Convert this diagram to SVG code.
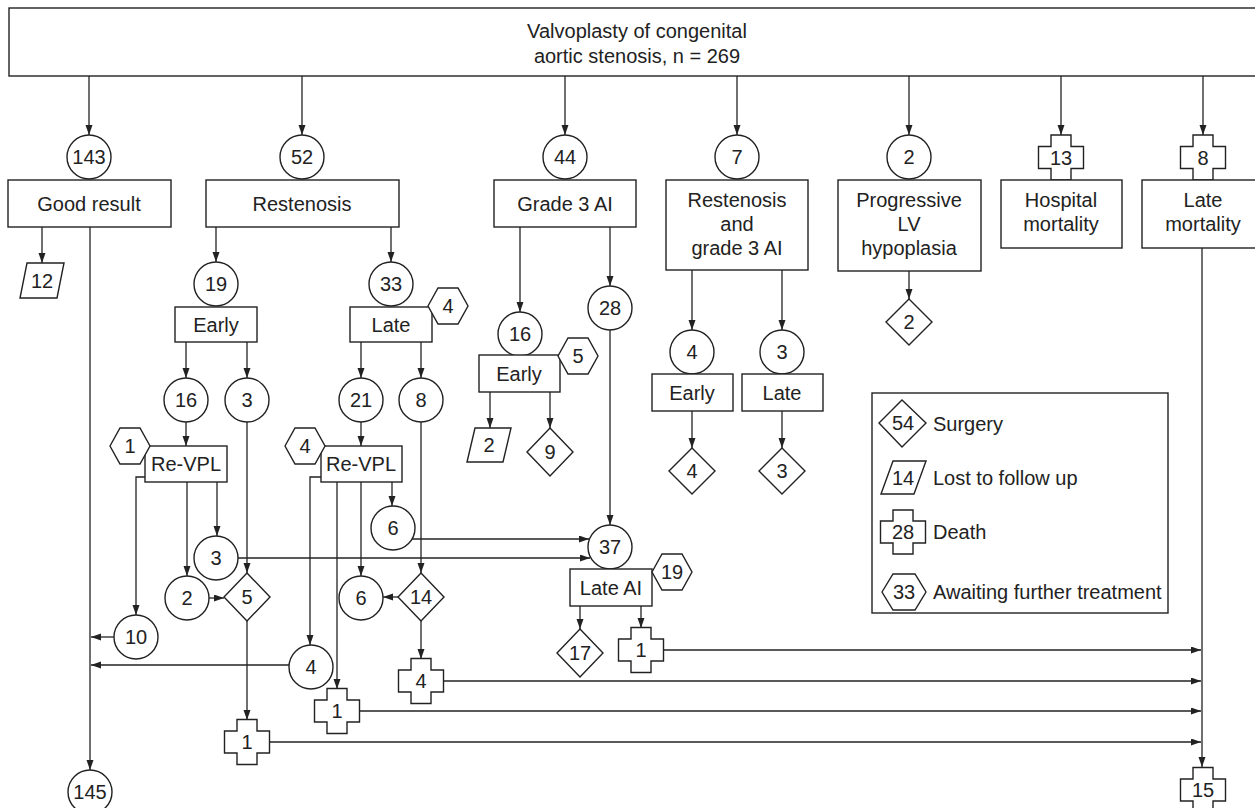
<svg xmlns="http://www.w3.org/2000/svg" width="1255" height="808" viewBox="0 0 1255 808">
<defs>
<marker id="ah" markerUnits="userSpaceOnUse" markerWidth="11" markerHeight="8" refX="10" refY="3.5" orient="auto">
<path d="M0,0 L10,3.5 L0,7 z" fill="#222"/>
</marker>
<style>
.s{fill:#fff;stroke:#222;stroke-width:1.4}
.t{font-family:"Liberation Sans",Arial,sans-serif;font-size:20px;fill:#222;text-anchor:middle}
.l{font-family:"Liberation Sans",Arial,sans-serif;font-size:20px;fill:#222;text-anchor:start}
#connectors path{fill:none;stroke:#222;stroke-width:1.3}
#connectors path.a{marker-end:url(#ah)}
</style>
</defs>
<rect width="1255" height="808" fill="#fff"/>
<g id="connectors">
<path class="a" d="M89,76 V135"/>
<path class="a" d="M302,76 V135"/>
<path class="a" d="M565,76 V135"/>
<path class="a" d="M737,76 V135"/>
<path class="a" d="M909,76 V135"/>
<path class="a" d="M1061,76 V135"/>
<path class="a" d="M1203,76 V135"/>
<path class="a" d="M42,227 V263"/>
<path class="a" d="M90,227 V770"/>
<path class="a" d="M216,227 V262"/>
<path class="a" d="M391,227 V262"/>
<path class="a" d="M186,342 V378"/>
<path class="a" d="M247,342 V378"/>
<path class="a" d="M361,342 V378"/>
<path class="a" d="M421,342 V378"/>
<path class="a" d="M186,422 V446"/>
<path class="a" d="M361,422 V446"/>
<path class="a" d="M145,477 H136 V615"/>
<path class="a" d="M187,482 V576"/>
<path class="a" d="M217,482 V536"/>
<path class="a" d="M247,422 V573"/>
<path class="a" d="M209,598 H224"/>
<path class="a" d="M247,621 V720"/>
<path class="a" d="M270,742 H1201"/>
<path class="a" d="M114,637 H91"/>
<path class="a" d="M238,558 H590"/>
<path class="a" d="M321,477 H310 V645"/>
<path class="a" d="M289,665 H91"/>
<path class="a" d="M337,482 V689"/>
<path class="a" d="M360,711 H1201"/>
<path class="a" d="M361,482 V576"/>
<path class="a" d="M392,482 V506"/>
<path class="a" d="M412,539 H589"/>
<path class="a" d="M421,422 V573"/>
<path class="a" d="M398,597 H383"/>
<path class="a" d="M421,621 V659"/>
<path class="a" d="M444,681 H1201"/>
<path class="a" d="M520,227 V312"/>
<path class="a" d="M610,227 V286"/>
<path class="a" d="M610,330 V525"/>
<path class="a" d="M490,392 V428"/>
<path class="a" d="M550,392 V428"/>
<path class="a" d="M580,606 V629"/>
<path class="a" d="M641,606 V628"/>
<path class="a" d="M663,650 H1201"/>
<path class="a" d="M692,270 V330"/>
<path class="a" d="M782,270 V330"/>
<path class="a" d="M692,411 V448"/>
<path class="a" d="M782,411 V448"/>
<path class="a" d="M909,271 V299"/>
<path class="a" d="M1202,248 V767"/>
</g>
<g id="n-root"><rect class="s" x="9" y="8" width="1260" height="68"/><text class="t" x="637" y="38">Valvoplasty of congenital</text><text class="t" x="637" y="63">aortic stenosis, n = 269</text></g>
<g id="n-143"><circle class="s" cx="89" cy="157" r="22"/><text class="t" x="89" y="164">143</text></g>
<g id="n-52"><circle class="s" cx="302" cy="157" r="22"/><text class="t" x="302" y="164">52</text></g>
<g id="n-44"><circle class="s" cx="565" cy="157" r="22"/><text class="t" x="565" y="164">44</text></g>
<g id="n-7"><circle class="s" cx="737" cy="157" r="22"/><text class="t" x="737" y="164">7</text></g>
<g id="n-2top"><circle class="s" cx="909" cy="157" r="22"/><text class="t" x="909" y="164">2</text></g>
<g id="n-13"><path class="s" d="M1051,135 H1071 V146.5 H1083.5 V168.5 H1071 V180 H1051 V168.5 H1038.5 V146.5 H1051 Z"/><text class="t" x="1061" y="165">13</text></g>
<g id="n-8top"><path class="s" d="M1193,135 H1213 V146.5 H1225.5 V168.5 H1213 V180 H1193 V168.5 H1180.5 V146.5 H1193 Z"/><text class="t" x="1203" y="165">8</text></g>
<g id="n-good"><rect class="s" x="8" y="180" width="163" height="47"/><text class="t" x="89" y="211">Good result</text></g>
<g id="n-restenosis"><rect class="s" x="206" y="180" width="193" height="47"/><text class="t" x="302" y="211">Restenosis</text></g>
<g id="n-grade3"><rect class="s" x="494" y="180" width="142" height="47"/><text class="t" x="565" y="211">Grade 3 AI</text></g>
<g id="n-restai"><rect class="s" x="666" y="180" width="142" height="90"/><text class="t" x="737" y="207">Restenosis</text><text class="t" x="737" y="231">and</text><text class="t" x="737" y="255">grade 3 AI</text></g>
<g id="n-lv"><rect class="s" x="838" y="180" width="143" height="91"/><text class="t" x="909" y="207">Progressive</text><text class="t" x="909" y="231">LV</text><text class="t" x="909" y="255">hypoplasia</text></g>
<g id="n-hosp"><rect class="s" x="1001" y="180" width="121" height="68"/><text class="t" x="1061" y="207">Hospital</text><text class="t" x="1061" y="231">mortality</text></g>
<g id="n-late-mort"><rect class="s" x="1142" y="180" width="125" height="68"/><text class="t" x="1203" y="207">Late</text><text class="t" x="1203" y="231">mortality</text></g>
<g id="n-12"><path class="s" d="M27,263 H64 L57,298 H20 Z"/><text class="t" x="42" y="288">12</text></g>
<g id="n-19"><circle class="s" cx="216" cy="284" r="22"/><text class="t" x="216" y="291">19</text></g>
<g id="n-33"><circle class="s" cx="391" cy="284" r="22"/><text class="t" x="391" y="291">33</text></g>
<g id="n-early1"><rect class="s" x="175" y="307" width="82" height="35"/><text class="t" x="216" y="332">Early</text></g>
<g id="n-late1"><rect class="s" x="350" y="307" width="82" height="35"/><text class="t" x="391" y="332">Late</text></g>
<g id="n-hex4a"><path class="s" d="M428,306 L438,288 H458 L468,306 L458,324 H438 Z"/><text class="t" x="448" y="313">4</text></g>
<g id="n-16a"><circle class="s" cx="186" cy="400" r="22"/><text class="t" x="186" y="407">16</text></g>
<g id="n-3a"><circle class="s" cx="247" cy="400" r="22"/><text class="t" x="247" y="407">3</text></g>
<g id="n-21"><circle class="s" cx="361" cy="400" r="22"/><text class="t" x="361" y="407">21</text></g>
<g id="n-8a"><circle class="s" cx="421" cy="400" r="22"/><text class="t" x="421" y="407">8</text></g>
<g id="n-revpl1"><rect class="s" x="145" y="446" width="82" height="36"/><text class="t" x="186" y="471">Re-VPL</text></g>
<g id="n-hex1"><path class="s" d="M110,446 L120,428 H140 L150,446 L140,464 H120 Z"/><text class="t" x="130" y="453">1</text></g>
<g id="n-revpl2"><rect class="s" x="321" y="446" width="81" height="36"/><text class="t" x="361" y="471">Re-VPL</text></g>
<g id="n-hex4b"><path class="s" d="M285,446 L295,428 H315 L325,446 L315,464 H295 Z"/><text class="t" x="305" y="453">4</text></g>
<g id="n-6a"><circle class="s" cx="393" cy="528" r="22"/><text class="t" x="393" y="535">6</text></g>
<g id="n-3b"><circle class="s" cx="216" cy="558" r="22"/><text class="t" x="216" y="565">3</text></g>
<g id="n-2b"><circle class="s" cx="187" cy="598" r="22"/><text class="t" x="187" y="605">2</text></g>
<g id="n-d5"><path class="s" d="M247,573 L270,597 L247,621 L224,597 Z"/><text class="t" x="247" y="604">5</text></g>
<g id="n-6b"><circle class="s" cx="361" cy="598" r="22"/><text class="t" x="361" y="605">6</text></g>
<g id="n-d14"><path class="s" d="M421,573 L444,597 L421,621 L398,597 Z"/><text class="t" x="421" y="604">14</text></g>
<g id="n-10"><circle class="s" cx="136" cy="637" r="22"/><text class="t" x="136" y="644">10</text></g>
<g id="n-4c"><circle class="s" cx="311" cy="667" r="22"/><text class="t" x="311" y="674">4</text></g>
<g id="n-x4"><path class="s" d="M411,658.5 H431 V670 H443.5 V692 H431 V703.5 H411 V692 H398.5 V670 H411 Z"/><text class="t" x="421" y="688">4</text></g>
<g id="n-x1b"><path class="s" d="M327,688.5 H347 V700 H359.5 V722 H347 V733.5 H327 V722 H314.5 V700 H327 Z"/><text class="t" x="337" y="718">1</text></g>
<g id="n-x1c"><path class="s" d="M237,719.5 H257 V731 H269.5 V753 H257 V764.5 H237 V753 H224.5 V731 H237 Z"/><text class="t" x="247" y="749">1</text></g>
<g id="n-145"><circle class="s" cx="90" cy="792" r="22"/><text class="t" x="90" y="799">145</text></g>
<g id="n-16b"><circle class="s" cx="520" cy="334" r="22"/><text class="t" x="520" y="341">16</text></g>
<g id="n-28"><circle class="s" cx="610" cy="308" r="22"/><text class="t" x="610" y="315">28</text></g>
<g id="n-early2"><rect class="s" x="479" y="355" width="81" height="37"/><text class="t" x="519" y="381">Early</text></g>
<g id="n-hex5"><path class="s" d="M558,356 L568,338 H588 L598,356 L588,374 H568 Z"/><text class="t" x="578" y="363">5</text></g>
<g id="n-p2"><path class="s" d="M475,428 H511 L503,462 H467 Z"/><text class="t" x="489" y="452">2</text></g>
<g id="n-d9"><path class="s" d="M550,428 L573,452 L550,476 L527,452 Z"/><text class="t" x="550" y="459">9</text></g>
<g id="n-37"><circle class="s" cx="610" cy="547" r="22"/><text class="t" x="610" y="554">37</text></g>
<g id="n-lateai"><rect class="s" x="570" y="569" width="82" height="37"/><text class="t" x="611" y="595">Late AI</text></g>
<g id="n-hex19"><path class="s" d="M652,572 L662,554 H682 L692,572 L682,590 H662 Z"/><text class="t" x="672" y="579">19</text></g>
<g id="n-d17"><path class="s" d="M580,629 L603,653 L580,677 L557,653 Z"/><text class="t" x="580" y="660">17</text></g>
<g id="n-x1a"><path class="s" d="M631,627.5 H651 V639 H663.5 V661 H651 V672.5 H631 V661 H618.5 V639 H631 Z"/><text class="t" x="641" y="657">1</text></g>
<g id="n-4d"><circle class="s" cx="692" cy="352" r="22"/><text class="t" x="692" y="359">4</text></g>
<g id="n-3d"><circle class="s" cx="782" cy="352" r="22"/><text class="t" x="782" y="359">3</text></g>
<g id="n-early3"><rect class="s" x="652" y="374" width="81" height="37"/><text class="t" x="692" y="400">Early</text></g>
<g id="n-late3"><rect class="s" x="742" y="374" width="81" height="37"/><text class="t" x="782" y="400">Late</text></g>
<g id="n-d4"><path class="s" d="M692,448 L715,471 L692,494 L669,471 Z"/><text class="t" x="692" y="478">4</text></g>
<g id="n-d3"><path class="s" d="M782,448 L805,471 L782,494 L759,471 Z"/><text class="t" x="782" y="478">3</text></g>
<g id="n-d2"><path class="s" d="M909,299 L932,322 L909,345 L886,322 Z"/><text class="t" x="909" y="329">2</text></g>
<g id="n-x15"><path class="s" d="M1193,767.5 H1213 V779 H1225.5 V801 H1213 V812.5 H1193 V801 H1180.5 V779 H1193 Z"/><text class="t" x="1203" y="797">15</text></g>
<g id="legend">
<rect class="s" x="872" y="393" width="296" height="220"/>
<path class="s" d="M902,400 L926,423 L902,447 L879,423 Z"/><text class="t" x="903" y="430">54</text><text class="l" x="933" y="431">Surgery</text>
<path class="s" d="M893,461 H926 L914,494 H881 Z"/><text class="t" x="903" y="485">14</text><text class="l" x="933" y="485">Lost to follow up</text>
<path class="s" d="M893,510 H913 V521 H925.5 V543 H913 V554 H893 V543 H880.5 V521 H893 Z"/><text class="t" x="903" y="539">28</text><text class="l" x="933" y="539">Death</text>
<path class="s" d="M882,592 L893,574 H915 L926,592 L915,610 H893 Z"/><text class="t" x="904" y="599">33</text><text class="l" x="933" y="599">Awaiting further treatment</text>
</g>
</svg>
